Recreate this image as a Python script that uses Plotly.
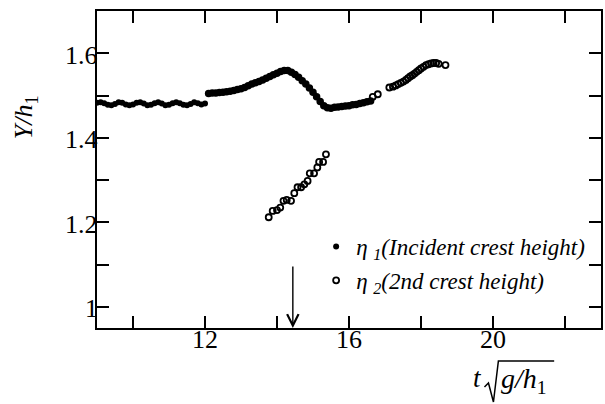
import plotly.graph_objects as go

# eta_1: incident crest height (filled dots), two recorded stretches
t1_a = [9.0, 9.1, 9.2, 9.3, 9.4, 9.5, 9.6, 9.7, 9.8, 9.9, 10.0, 10.1, 10.2, 10.3,
        10.4, 10.5, 10.6, 10.7, 10.8, 10.9, 11.0, 11.1, 11.2, 11.3, 11.4, 11.5,
        11.6, 11.7, 11.8, 11.9, 12.0]
y1_a = [1.483, 1.484, 1.482, 1.478, 1.477, 1.480, 1.484, 1.483, 1.479, 1.477,
        1.479, 1.483, 1.484, 1.481, 1.477, 1.478, 1.482, 1.484, 1.481, 1.477,
        1.478, 1.482, 1.484, 1.482, 1.478, 1.477, 1.480, 1.484, 1.482, 1.479, 1.481]

t1_b = [12.1, 12.2, 12.3, 12.4, 12.5, 12.6, 12.7, 12.8, 12.9, 13.0, 13.1, 13.2,
        13.3, 13.4, 13.5, 13.6, 13.7, 13.8, 13.9, 14.0, 14.1, 14.2, 14.3, 14.4,
        14.5, 14.6, 14.7, 14.8, 14.9, 15.0, 15.1, 15.2, 15.3, 15.4, 15.5, 15.6,
        15.7, 15.8, 15.9, 16.0, 16.1, 16.2, 16.3, 16.4, 16.5, 16.6]
y1_b = [1.505, 1.506, 1.506, 1.507, 1.508, 1.509, 1.510, 1.512, 1.514, 1.516,
        1.519, 1.523, 1.527, 1.530, 1.533, 1.537, 1.541, 1.545, 1.549, 1.553,
        1.557, 1.559, 1.559, 1.555, 1.550, 1.543, 1.535, 1.527, 1.518, 1.508,
        1.497, 1.486, 1.476, 1.471, 1.470, 1.472, 1.473, 1.474, 1.475, 1.476,
        1.478, 1.479, 1.481, 1.483, 1.485, 1.487]

# eta_2: second crest height (open circles)
t2 = [13.77, 13.88, 14.00, 14.09, 14.18, 14.27, 14.39, 14.48, 14.57, 14.67,
      14.76, 14.85, 14.91, 15.03, 15.12, 15.17, 15.28, 15.36,
      16.66, 16.80, 17.12, 17.22, 17.30, 17.37, 17.44, 17.51, 17.58, 17.64,
      17.70, 17.76, 17.82, 17.88, 17.94, 18.00, 18.07, 18.14, 18.21, 18.28,
      18.35, 18.42, 18.49, 18.68]
y2 = [1.212, 1.227, 1.229, 1.235, 1.251, 1.253, 1.251, 1.269, 1.283, 1.283,
      1.290, 1.298, 1.316, 1.316, 1.330, 1.343, 1.343, 1.361,
      1.497, 1.503, 1.519, 1.521, 1.524, 1.527, 1.530, 1.533, 1.537, 1.541,
      1.545, 1.548, 1.552, 1.556, 1.560, 1.564, 1.568, 1.572, 1.574, 1.576,
      1.577, 1.577, 1.575, 1.572]

x_tickvals = [12, 16, 20]
x_ticktext = ["12", "16", "20"]
y_tickvals = [1.0, 1.2, 1.4, 1.6]
y_ticktext = ["1", "1.2", "1.4", "1.6"]

marker_time = 14.44  # time indicated by the arrow

SERIF = "Liberation Serif, Times New Roman, Times, serif"
W, H = 605, 404
ML, MR, MT, MB = 97, 2, 11, 76
PW, PH = W - ML - MR, H - MT - MB
TICK_FONT = dict(family=SERIF, size=26, color="black")


def px_to_paper(x, y):
    return (x - ML) / PW, (H - MB - y) / PH


fig = go.Figure()
fig.add_trace(go.Scatter(
    x=t1_a, y=y1_a, mode="markers", name="η <sub>1</sub>(Incident crest height)",
    legendgroup="eta1", marker=dict(color="black", size=6, symbol="circle")))
fig.add_trace(go.Scatter(
    x=t1_b, y=y1_b, mode="markers", showlegend=False, legendgroup="eta1",
    marker=dict(color="black", size=7.5, symbol="circle")))
fig.add_trace(go.Scatter(
    x=t2, y=y2, mode="markers", name="η <sub>2</sub>(2nd crest height)",
    legendgroup="eta2",
    marker=dict(color="black", size=6, symbol="circle-open",
                line=dict(color="black", width=1.8))))

# tick marks on all four sides; labels are set close to the frame below
axis_common = dict(showline=True, linecolor="black", linewidth=2, mirror="ticks",
                   ticks="inside", ticklen=12, tickwidth=2, tickcolor="black",
                   showgrid=False, zeroline=False, showticklabels=False)

fig.update_xaxes(range=[9, 23], tickmode="array", tickvals=x_tickvals,
                 minor=dict(ticks="inside", ticklen=12, tickwidth=2,
                            tickcolor="black", tick0=10, dtick=2, showgrid=False),
                 **axis_common)
fig.update_yaxes(range=[0.95, 1.70], tickmode="array", tickvals=y_tickvals,
                 minor=dict(ticks="inside", ticklen=12, tickwidth=2,
                            tickcolor="black", tick0=1.0, dtick=0.1, showgrid=False),
                 **axis_common)

for v, txt in zip(x_tickvals, x_ticktext):
    fig.add_annotation(x=v, xref="x", y=0, yref="paper", yanchor="top",
                       xanchor="center", yshift=5, text=txt, showarrow=False,
                       font=TICK_FONT)
for v, txt in zip(y_tickvals, y_ticktext):
    fig.add_annotation(x=0, xref="paper", y=v, yref="y", xanchor="right",
                       yanchor="middle", xshift=3, yshift=-2, text=txt,
                       showarrow=False, font=TICK_FONT)

# arrow pointing at the marked time on the horizontal axis
fig.add_annotation(x=marker_time, y=0.95, ax=marker_time, ay=1.099,
                   xref="x", yref="y", axref="x", ayref="y", text="",
                   showarrow=True, arrowhead=5, arrowsize=1.6, arrowwidth=1.4,
                   arrowcolor="black")

# axis titles
yx, yy = px_to_paper(25, 117)
fig.add_annotation(x=yx, y=yy, xref="paper", yref="paper", showarrow=False,
                   xanchor="center", yanchor="middle",
                   text="<i>Y/h</i><sub>1</sub>", textangle=-90,
                   font=dict(family=SERIF, size=26, color="black"))
tx, ty = px_to_paper(479, 378)
fig.add_annotation(x=tx, y=ty, xref="paper", yref="paper", showarrow=False,
                   xanchor="center", yanchor="middle",
                   text="<i>t</i>", font=dict(family=SERIF, size=27, color="black"))
gx, gy = px_to_paper(501, 380)
fig.add_annotation(x=gx, y=gy, xref="paper", yref="paper", showarrow=False,
                   xanchor="left", yanchor="middle", text="<i>g/h</i><sub>1</sub>",
                   font=dict(family=SERIF, size=28, color="black"))
rad = [px_to_paper(*p) for p in [(486, 387), (490, 383), (495, 402), (500, 361), (556, 361)]]
path = "M " + " L ".join(f"{x:.4f},{y:.4f}" for x, y in rad)
fig.add_shape(type="path", path=path, xref="paper", yref="paper",
              line=dict(color="black", width=1.5))

lx, ly = px_to_paper(317, 225)
fig.update_layout(
    width=W, height=H,
    margin=dict(l=ML, r=MR, t=MT, b=MB),
    paper_bgcolor="white", plot_bgcolor="white",
    showlegend=True,
    legend=dict(x=lx, y=ly, xanchor="left", yanchor="top",
                bgcolor="rgba(0,0,0,0)", traceorder="grouped", tracegroupgap=1,
                font=dict(family=SERIF, size=23, color="black", style="italic")),
)

fig.write_html("out.html")
